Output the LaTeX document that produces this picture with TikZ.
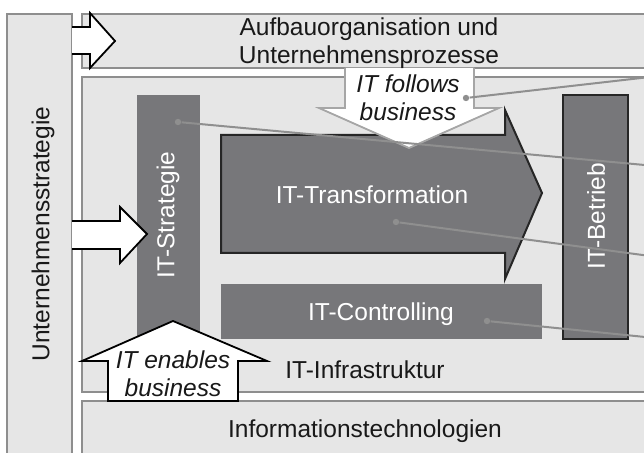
\documentclass[tikz,border=0pt]{standalone}
\usepackage{fontspec}
\setmainfont{Liberation Sans}
\usetikzlibrary{positioning}
\definecolor{paneFill}{HTML}{E6E6E6}
\definecolor{paneLine}{HTML}{8E8E8E}
\definecolor{boxFill}{HTML}{77777A}
\definecolor{leadLine}{HTML}{8F8F8F}

\begin{document}
\begin{tikzpicture}[
    x=0.5pt, y=-0.5pt,
    pane/.style={fill=paneFill, draw=paneLine, line width=1.1pt},
    itbox/.style={fill=boxFill},
    framed/.style={itbox, draw=black!85, line width=1pt},
    blockarrow/.style={fill=white, draw=black, line width=0.9pt, line join=miter},
    lbl/.style={font=\fontsize{12.25}{14}\selectfont, text=black!90, align=center, inner sep=0pt},
    inlbl/.style={lbl, text=white},
    cue/.style={lbl, font=\fontsize{12.25}{14.25}\selectfont\itshape},
    dot/.style={circle, fill=leadLine, inner sep=0pt, minimum size=3.2pt},
    lead/.style={draw=leadLine, line width=1pt},
  ]
  \useasboundingbox (0,0) rectangle (644,453);
  \clip (0,0) rectangle (644,453);

  % frames
  \path[pane] (7,14) rectangle (72,470);
  \path[pane] (82,14) rectangle (660,68);
  \path[pane] (82,77) rectangle (660,392);
  \path[pane] (82,401) rectangle (660,470);

  % IT boxes
  \path[itbox] (137,95) rectangle (200,336);
  \path[itbox] (221,284) rectangle (542,339);
  \path[framed] (563,95) rectangle (628,339);
  \path[framed] (221,135) -- (505,135) -- (505,110) -- (542,193)
    -- (505,279) -- (505,253) -- (221,253) -- cycle;

  % block arrows
  \path[blockarrow] (72,27) -- (90,27) -- (90,13) -- (115,41) -- (90,68) -- (90,54) -- (72,54);
  \path[blockarrow] (72,221) -- (120,221) -- (120,207) -- (147,234) -- (120,263) -- (120,249) -- (72,249);
  \path[blockarrow, draw=black!35] (345,68) -- (345,108) -- (319,108) -- (409,148)
    -- (499,108) -- (474,108) -- (474,68);
  \path[blockarrow] (108,401) -- (108,361) -- (82,361) -- (173,321)
    -- (267,361) -- (238,361) -- (238,401) -- cycle;

  % labels
  \node[lbl, rotate=90] (strategy) at (43,234) {Unternehmensstrategie};
  \node[lbl] (process) at (369,43) {Aufbauorganisation und\\Unternehmensprozesse};
  \node[lbl, anchor=base] (infra) at (365,379) {IT-Infrastruktur};
  \node[lbl, anchor=base] (tech) at (365,438) {Informationstechnologien};
  \node[inlbl, rotate=90] (itstrat) at (168,215) {IT-Strategie};
  \node[inlbl, anchor=base] (ittrans) at (372,204) {IT-Transformation};
  \node[inlbl, anchor=base] (itctrl) at (381,321) {IT-Controlling};
  \node[inlbl, rotate=90] (itops) at (596,216) {IT-Betrieb};
  \node[cue] (follows) at (408,98) {IT follows\\business};
  \node[cue] (enables) at (173,374) {IT enables\\business};

  % leader lines out to the right
  \node[dot] (followsdot) at (466,98) {};
  \node[dot] (stratdot) at (178,122) {};
  \node[dot] (transdot) at (396,222) {};
  \node[dot] (ctrldot) at (487,321) {};
  \coordinate (followsend) at (650,77);
  \coordinate (stratend) at (650,165.5);
  \coordinate (transend) at (650,256);
  \coordinate (ctrlend) at (650,337.5);
  \draw[lead] (followsdot) -- (followsend);
  \draw[lead] (stratdot) -- (stratend);
  \draw[lead] (transdot) -- (transend);
  \draw[lead] (ctrldot) -- (ctrlend);
\end{tikzpicture}
\end{document}
